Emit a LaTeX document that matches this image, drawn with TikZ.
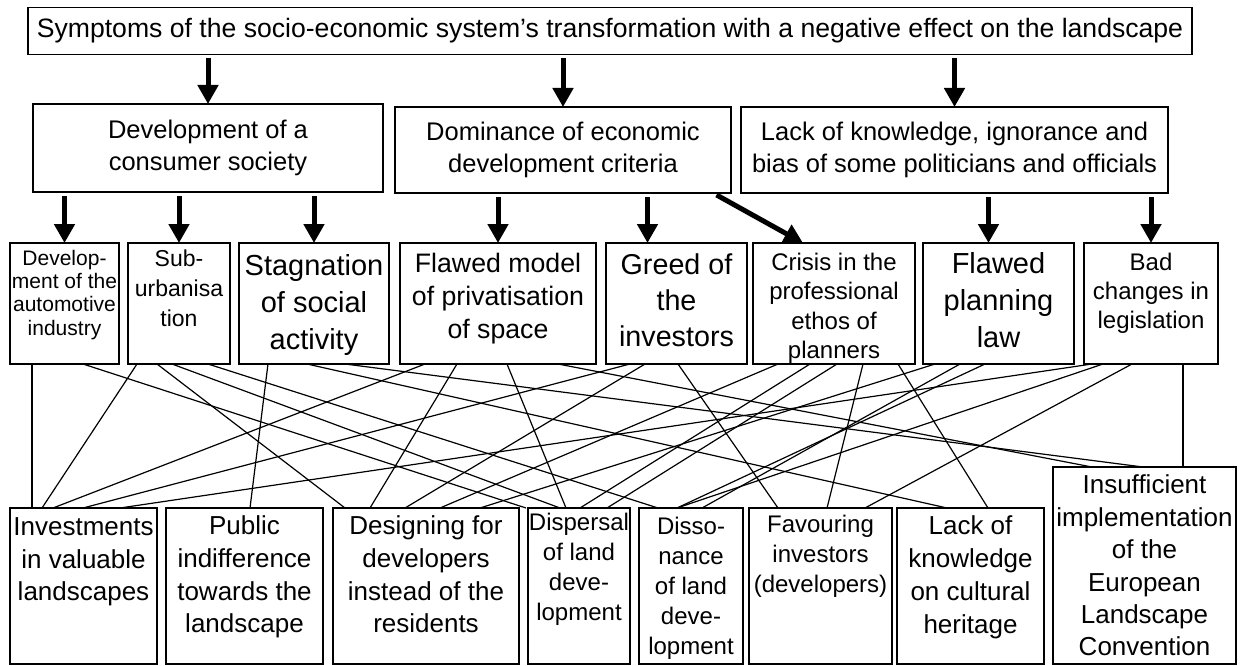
\documentclass[tikz,border=0pt]{standalone}
\usepackage{fontspec}
\setmainfont{Liberation Sans}
\usetikzlibrary{arrows.meta}
\tikzset{
        % Boxes with centred text
        box_head/.style={draw, line width=1.2pt, inner sep=0pt, outer sep=0pt, align=center},
        % Boxes with text set from the top
        box_cell/.style={draw, line width=1.2pt, inner sep=0pt, outer sep=0pt, anchor=north west},
        % Thick arrows
        arrow_big/.style={line width=5pt, -{Triangle[length=19pt,width=20pt]}},
        % Thin links
        link/.style={line width=1.2pt}
}
% width, height, top gap, font size, leading, text
\newcommand{\celltext}[6]{\parbox[t][#2pt][t]{#1pt}{\centering\fontsize{#4}{#5}\selectfont\vspace*{#3pt}#6\par}}

\begin{document}
\begin{tikzpicture}[x=1pt, y=-1pt]
            \useasboundingbox (0,0) rectangle (1240,666);
            % Top level
            \node[box_head, minimum width=1164pt, minimum height=47pt, font=\fontsize{26.6}{30}\selectfont] (top) at (610,31)
                {Symptoms of the socio-economic system’s transformation with a negative effect on the landscape};
            % Second level
            \node[box_head, minimum width=350pt, minimum height=88pt, font=\fontsize{25.5}{32}\selectfont] (b1) at (208,148)
                {Development of a\\consumer society};
            \node[box_head, minimum width=336pt, minimum height=86pt, font=\fontsize{25.5}{32}\selectfont] (b2) at (563,150)
                {Dominance of economic\\development criteria};
            \node[box_head, minimum width=427pt, minimum height=86pt, font=\fontsize{25.5}{32}\selectfont] (b3) at (954.5,150)
                {Lack of knowledge, ignorance and\\bias of some politicians and officials};
            % Third level
            \node[box_cell] (c1) at (10,243) {\celltext{109}{121}{7}{21}{23.3}{Develop-\\ment of the\\automotive\\industry}};
            \node[box_cell] (c2) at (128,243) {\celltext{102}{121}{7}{23}{30}{Sub-\\urbanisa\\tion}};
            \node[box_cell] (c3) at (239,243) {\celltext{150}{121}{11}{29}{37}{Stagnation\\of social\\activity}};
            \node[box_cell] (c4) at (400,243) {\celltext{196}{121}{10}{26.7}{33}{Flawed model\\of privatisation\\of space}};
            \node[box_cell] (c5) at (606,243) {\celltext{141}{121}{11}{28.7}{36}{Greed of\\the\\investors}};
            \node[box_cell] (c6) at (753,243) {\celltext{162}{121}{10}{24}{29.5}{Crisis in the\\professional\\ethos of\\planners}};
            \node[box_cell] (c7) at (923,243) {\celltext{151}{121}{9}{29}{37}{Flawed\\planning\\law}};
            \node[box_cell] (c8) at (1084,243) {\celltext{134}{121}{10}{24}{29}{Bad\\changes in\\legislation}};
            % Fourth level
            \node[box_cell] (d1) at (10,508) {\celltext{147}{156}{10}{26}{32.5}{Investments\\in valuable\\landscapes}};
            \node[box_cell] (d2) at (166,508) {\celltext{157}{156}{8}{26}{32.7}{Public\\indifference\\towards the\\landscape}};
            \node[box_cell] (d3) at (333,508) {\celltext{186}{156}{8}{26}{32.7}{Designing for\\developers\\instead of the\\residents}};
            \node[box_cell] (d4) at (528,508) {\celltext{102}{156}{5}{24}{30}{Dispersal\\of land\\deve-\\lopment}};
            \node[box_cell] (d5) at (639,508) {\celltext{104}{156}{9}{24}{30}{Disso-\\nance\\of land\\deve-\\lopment}};
            \node[box_cell] (d6) at (749,508) {\celltext{143}{156}{7}{24}{30}{Favouring\\investors\\(developers)}};
            \node[box_cell] (d7) at (897,508) {\celltext{147}{156}{8}{26}{33}{Lack of\\knowledge\\on cultural\\heritage}};
            \node[box_cell] (d8) at (1053,467) {\celltext{183}{197}{8}{26}{32.4}{Insufficient\\implementation\\of the\\European\\Landscape\\Convention}};

            % Arrows from the top box
            \draw[arrow_big, shorten <=4pt] (b1.north |- top.south) -- (b1.north);
            \draw[arrow_big, shorten <=4pt] (b2.north |- top.south) -- (b2.north);
            \draw[arrow_big, shorten <=4pt] (b3.north |- top.south) -- (b3.north);
            % Arrows to the third level
            \coordinate (c5in) at ([xshift=-29pt]c5.north);
            \coordinate (c7in) at ([xshift=-10pt]c7.north);
            \draw[arrow_big, shorten <=4pt] (c1.north |- b1.south) -- (c1.north);
            \draw[arrow_big, shorten <=4pt] (c2.north |- b1.south) -- (c2.north);
            \draw[arrow_big, shorten <=4pt] (c3.north |- b1.south) -- (c3.north);
            \draw[arrow_big, shorten <=4pt] (c4.north |- b2.south) -- (c4.north);
            \draw[arrow_big, shorten <=4pt] (c5in |- b2.south) -- (c5in);
            \draw[arrow_big, shorten <=4pt] ([xshift=-18pt]b2.south east) -- ([xshift=50pt]c6.north west);
            \draw[arrow_big, shorten <=4pt] (c7in |- b3.south) -- (c7in);
            \draw[arrow_big, shorten <=4pt] (c8.north |- b3.south) -- (c8.north);

            % Links between third and fourth level
            \draw[link] ([xshift=22pt]c1.south west) -- ([xshift=22pt]d1.north west);
            \draw[link] ([xshift=73pt]c1.south west) -- ([xshift=-2pt]d4.north west);
            \draw[link] ([xshift=9pt]c2.south west) -- ([xshift=32pt]d1.north west);
            \draw[link] ([xshift=29pt]c2.south west) -- ([xshift=12pt]d3.north west);
            \draw[link] ([xshift=44pt]c2.south west) -- ([xshift=32pt]d4.north west);
            \draw[link] ([xshift=80pt]c2.south west) -- ([xshift=19pt]d5.north west);
            \draw[link] ([xshift=29pt]c3.south west) -- ([xshift=84pt]d2.north west);
            \draw[link] ([xshift=68pt]c3.south west) -- ([xshift=50pt]d7.north west);
            \draw[link] ([xshift=106pt]c3.south west) -- ([xshift=90pt]d8.north west);
            \draw[link] ([xshift=25pt]c4.south west) -- ([xshift=43pt]d1.north west);
            \draw[link] ([xshift=57pt]c4.south west) -- ([xshift=37pt]d3.north west);
            \draw[link] ([xshift=107pt]c4.south west) -- ([xshift=38pt]d4.north west);
            \draw[link] ([xshift=158pt]c4.south west) -- ([xshift=39pt]d8.north west);
            \draw[link] ([xshift=24pt]c5.south west) -- ([xshift=73pt]d1.north west);
            \draw[link] ([xshift=39pt]c5.south west) -- ([xshift=72pt]d3.north west);
            \draw[link] ([xshift=72pt]c5.south west) -- ([xshift=29pt]d6.north west);
            \draw[link] ([xshift=25pt]c6.south west) -- ([xshift=107pt]d3.north west);
            \draw[link] ([xshift=57pt]c6.south west) -- ([xshift=52pt]d4.north west);
            \draw[link] ([xshift=84pt]c6.south west) -- ([xshift=79pt]d4.north west);
            \draw[link] ([xshift=110pt]c6.south west) -- ([xshift=78pt]d6.north west);
            \draw[link] ([xshift=145pt]c6.south west) -- ([xshift=91pt]d7.north west);
            \draw[link] ([xshift=12pt]c7.south west) -- ([xshift=147pt]d3.north west);
            \draw[link] ([xshift=37pt]c7.south west) -- ([xshift=63pt]d5.north west);
            \draw[link] ([xshift=62pt]c7.south west) -- ([xshift=38pt]d5.north west);
            \draw[link] ([xshift=8pt]c8.south west) -- ([xshift=110pt]d1.north west);
            \draw[link] ([xshift=19pt]c8.south west) -- ([xshift=38pt]d5.north west);
            \draw[link] ([xshift=48pt]c8.south west) -- ([xshift=116pt]d6.north west);
            \draw[link] ([xshift=99pt]c8.south west) -- ([xshift=130pt]d8.north west);
\end{tikzpicture}
\end{document}
